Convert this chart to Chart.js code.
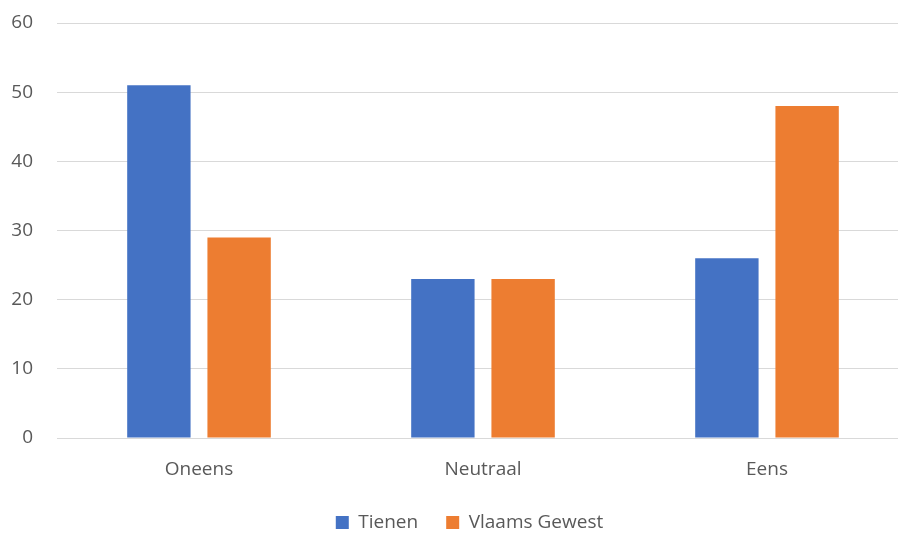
<!DOCTYPE html>
<html>
<head>
<meta charset="utf-8">
<script src="https://cdn.jsdelivr.net/npm/chart.js@4"></script>
<style>
  html, body { margin: 0; padding: 0; background: #fff; overflow: hidden; }
  #wrap { width: 912px; height: 533px; }
</style>
</head>
<body>
<div id="wrap"><canvas id="grafiek"></canvas></div>
<script>
const categorieen = ["Oneens", "Neutraal", "Eens"];
const tienen = [51, 23, 26];
const vlaamsGewest = [29, 23, 48];
const yTicks = [0, 10, 20, 30, 40, 50, 60];

Chart.defaults.font.family = "'Open Sans', 'Liberation Sans', sans-serif";
Chart.defaults.font.size = 19;
Chart.defaults.color = "#595959";

// legend sits a bit right of the canvas centre in the original
const legendShift = {
  id: "legendShift",
  afterLayout(chart) {
    chart.legend.left += 15;
    chart.legend.right += 15;
  }
};

const ctx = document.getElementById("grafiek").getContext("2d");
new Chart(ctx, {
  type: "bar",
  data: {
    labels: categorieen,
    datasets: [
      { label: "Tienen", data: tienen, backgroundColor: "#4472C4" },
      { label: "Vlaams Gewest", data: vlaamsGewest, backgroundColor: "#ED7D31" }
    ]
  },
  options: {
    responsive: true,
    maintainAspectRatio: false,
    animation: false,
    categoryPercentage: 0.565,
    barPercentage: 0.79,
    // plot area runs past the right edge like in the original
    layout: { padding: { top: 0, right: 3, left: 0, bottom: -9 } },
    scales: {
      x: {
        grid: { display: false },
        border: { color: "#d9d9d9" },
        ticks: { padding: 12 },
        afterFit: (axis) => { axis.height = 47; }
      },
      y: {
        min: yTicks[0],
        max: yTicks[yTicks.length - 1],
        afterBuildTicks: (axis) => { axis.ticks = yTicks.map(v => ({ value: v })); },
        afterFit: (axis) => { axis.width = 57; axis.paddingTop = 23; },
        grid: { color: "#d9d9d9", drawTicks: false },
        border: { display: false },
        ticks: { padding: 24 }
      }
    },
    plugins: {
      legend: {
        position: "bottom",
        labels: { boxWidth: 13, boxHeight: 13, padding: 28 }
      },
      tooltip: { enabled: false }
    }
  },
  plugins: [legendShift]
});
</script>
</body>
</html>
